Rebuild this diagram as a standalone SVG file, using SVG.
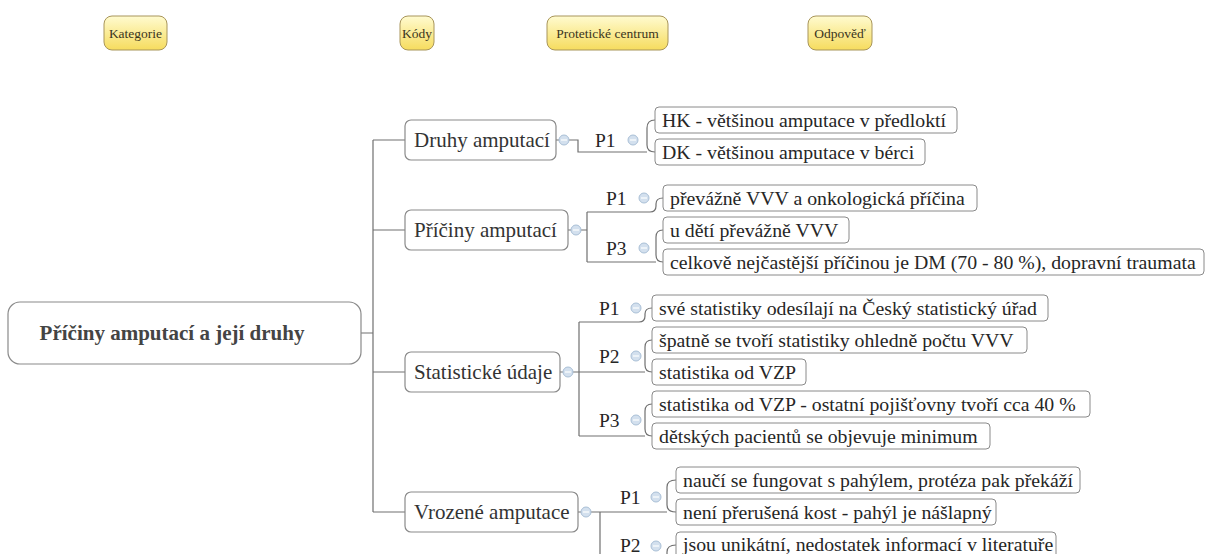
<svg xmlns="http://www.w3.org/2000/svg" width="1206" height="554" viewBox="0 0 1206 554">
<defs>
<linearGradient id="yel" x1="0" y1="0" x2="0" y2="1">
<stop offset="0" stop-color="#fffbd0"/>
<stop offset="1" stop-color="#f6dc5e"/>
</linearGradient>
<style>
text{font-family:"Liberation Serif","Times New Roman",serif;fill:#262626}
.leg rect{fill:url(#yel);stroke:#a8955a;stroke-width:1}
.leg text{font-size:13.5px;text-anchor:middle;fill:#3a3520}
.main rect{fill:#fff;stroke:#8a8a8a;stroke-width:1.2}
.main text{font-size:21px;font-weight:bold;text-anchor:middle;fill:#444}
.l1 rect{fill:#fff;stroke:#8a8a8a;stroke-width:1.2}
.l1 text{font-size:21px;fill:#333}
.leaf rect{fill:#fff;stroke:#8a8a8a;stroke-width:1}
.leaf text{font-size:19.8px}
.code text{font-size:19.5px}
.btn circle{fill:#d3e0ee;stroke:#a9bfd6;stroke-width:1}
.btn line{stroke:#fff;stroke-width:1.2}
#connectors path{fill:none;stroke:#707070;stroke-width:1.2}
</style>
</defs>
<rect width="1206" height="554" fill="#fff"/>

<g id="legend">
<g id="leg-kategorie" class="leg"><rect x="104" y="16" width="63" height="34" rx="8"/><text x="135.5" y="37.5">Kategorie</text></g>
<g id="leg-kody" class="leg"><rect x="400" y="16" width="34" height="34" rx="8"/><text x="417" y="37.5">Kódy</text></g>
<g id="leg-centrum" class="leg"><rect x="547" y="16" width="121" height="34" rx="8"/><text x="607.5" y="37.5">Protetické centrum</text></g>
<g id="leg-odpoved" class="leg"><rect x="808" y="16" width="64" height="34" rx="8"/><text x="840" y="37.5">Odpověď</text></g>
</g>

<g id="connectors">
<path d="M360,333 H373 M373,140 V512 M373,140 H405 M373,230 H405 M373,372 H405 M373,512 H405"/>
<path d="M556,140 H578 V152 H647"/>
<path d="M655,120 Q647,120 647,128 V145 Q647,152 655,152"/>
<path d="M568,230 H587 M587,212 V262"/>
<path d="M587,212 H650 Q656,212 656,206 V204 Q656,198 663,198"/>
<path d="M587,262 H656 M663,230 Q656,230 656,237 V255 Q656,262 663,262"/>
<path d="M560,372 H579 M579,322 V436"/>
<path d="M579,322 H639 Q645,322 645,316 V314 Q645,308 652,308"/>
<path d="M579,372 H645 M652,340 Q645,340 645,347 V365 Q645,372 652,372"/>
<path d="M579,436 H645 M652,404 Q645,404 645,411 V429 Q645,436 652,436"/>
<path d="M578,512 H600 M600,512 V560"/>
<path d="M600,512 H667 M676,480 Q667,480 667,487 V505 Q667,512 676,512"/>
<path d="M600,560 H661 Q667,560 667,554 V552 Q667,545 676,545"/>
</g>

<g id="root" class="main"><rect x="8" y="302" width="353" height="62" rx="12"/><text x="172" y="340">Příčiny amputací a její druhy</text></g>

<g id="druhy" class="l1"><rect x="405" y="120" width="151" height="40" rx="6"/><text x="414" y="147">Druhy amputací</text></g>
<g id="druhy-btn" class="btn"><circle cx="564" cy="140" r="5"/><line x1="561" y1="140" x2="567" y2="140"/></g>
<g id="druhy-p1" class="code"><text x="595" y="147">P1</text></g>
<g id="druhy-p1-btn" class="btn"><circle cx="633" cy="140" r="5"/><line x1="630" y1="140" x2="636" y2="140"/></g>
<g id="druhy-hk" class="leaf"><rect x="655" y="107" width="302" height="26" rx="4"/><text x="662" y="127">HK - většinou amputace v předloktí</text></g>
<g id="druhy-dk" class="leaf"><rect x="655" y="139" width="270" height="26" rx="4"/><text x="662" y="159">DK - většinou amputace v bérci</text></g>

<g id="priciny" class="l1"><rect x="405" y="210" width="163" height="40" rx="6"/><text x="414" y="237">Příčiny amputací</text></g>
<g id="priciny-btn" class="btn"><circle cx="576" cy="230" r="5"/><line x1="573" y1="230" x2="579" y2="230"/></g>
<g id="priciny-p1" class="code"><text x="606" y="205">P1</text></g>
<g id="priciny-p1-btn" class="btn"><circle cx="644" cy="198" r="5"/><line x1="641" y1="198" x2="647" y2="198"/></g>
<g id="priciny-p3" class="code"><text x="606" y="255">P3</text></g>
<g id="priciny-p3-btn" class="btn"><circle cx="644" cy="248" r="5"/><line x1="641" y1="248" x2="647" y2="248"/></g>
<g id="priciny-a" class="leaf"><rect x="663" y="185" width="314" height="26" rx="4"/><text x="670" y="205">převážně VVV a onkologická příčina</text></g>
<g id="priciny-b" class="leaf"><rect x="663" y="217" width="186" height="26" rx="4"/><text x="670" y="237">u dětí převážně VVV</text></g>
<g id="priciny-c" class="leaf"><rect x="663" y="249" width="541" height="26" rx="4"/><text x="670" y="269">celkově nejčastější příčinou je DM (70 - 80 %), dopravní traumata</text></g>

<g id="statistika" class="l1"><rect x="405" y="352" width="155" height="40" rx="6"/><text x="414" y="379">Statistické údaje</text></g>
<g id="statistika-btn" class="btn"><circle cx="568" cy="372" r="5"/><line x1="565" y1="372" x2="571" y2="372"/></g>
<g id="statistika-p1" class="code"><text x="599" y="315">P1</text></g>
<g id="statistika-p1-btn" class="btn"><circle cx="636" cy="308" r="5"/><line x1="633" y1="308" x2="639" y2="308"/></g>
<g id="statistika-p2" class="code"><text x="599" y="363">P2</text></g>
<g id="statistika-p2-btn" class="btn"><circle cx="636" cy="356" r="5"/><line x1="633" y1="356" x2="639" y2="356"/></g>
<g id="statistika-p3" class="code"><text x="599" y="427">P3</text></g>
<g id="statistika-p3-btn" class="btn"><circle cx="636" cy="420" r="5"/><line x1="633" y1="420" x2="639" y2="420"/></g>
<g id="statistika-a" class="leaf"><rect x="652" y="295" width="396" height="26" rx="4"/><text x="659" y="315">své statistiky odesílají na Český statistický úřad</text></g>
<g id="statistika-b" class="leaf"><rect x="652" y="327" width="375" height="26" rx="4"/><text x="659" y="347">špatně se tvoří statistiky ohledně počtu VVV</text></g>
<g id="statistika-c" class="leaf"><rect x="652" y="359" width="154" height="26" rx="4"/><text x="659" y="379">statistika od VZP</text></g>
<g id="statistika-d" class="leaf"><rect x="652" y="391" width="438" height="26" rx="4"/><text x="659" y="411">statistika od VZP - ostatní pojišťovny tvoří cca 40 %</text></g>
<g id="statistika-e" class="leaf"><rect x="652" y="423" width="338" height="26" rx="4"/><text x="659" y="443">dětských pacientů se objevuje minimum</text></g>

<g id="vrozene" class="l1"><rect x="405" y="492" width="173" height="40" rx="6"/><text x="414" y="519">Vrozené amputace</text></g>
<g id="vrozene-btn" class="btn"><circle cx="586" cy="512" r="5"/><line x1="583" y1="512" x2="589" y2="512"/></g>
<g id="vrozene-p1" class="code"><text x="620" y="504">P1</text></g>
<g id="vrozene-p1-btn" class="btn"><circle cx="656" cy="497" r="5"/><line x1="653" y1="497" x2="659" y2="497"/></g>
<g id="vrozene-p2" class="code"><text x="620" y="552">P2</text></g>
<g id="vrozene-p2-btn" class="btn"><circle cx="656" cy="546" r="5"/><line x1="653" y1="546" x2="659" y2="546"/></g>
<g id="vrozene-a" class="leaf"><rect x="676" y="467" width="404" height="26" rx="4"/><text x="683" y="487">naučí se fungovat s pahýlem, protéza pak překáží</text></g>
<g id="vrozene-b" class="leaf"><rect x="676" y="499" width="320" height="26" rx="4"/><text x="683" y="519">není přerušená kost - pahýl je nášlapný</text></g>
<g id="vrozene-c" class="leaf"><rect x="676" y="532" width="380" height="26" rx="4"/><text x="683" y="551">jsou unikátní, nedostatek informací v literatuře</text></g>
</svg>
